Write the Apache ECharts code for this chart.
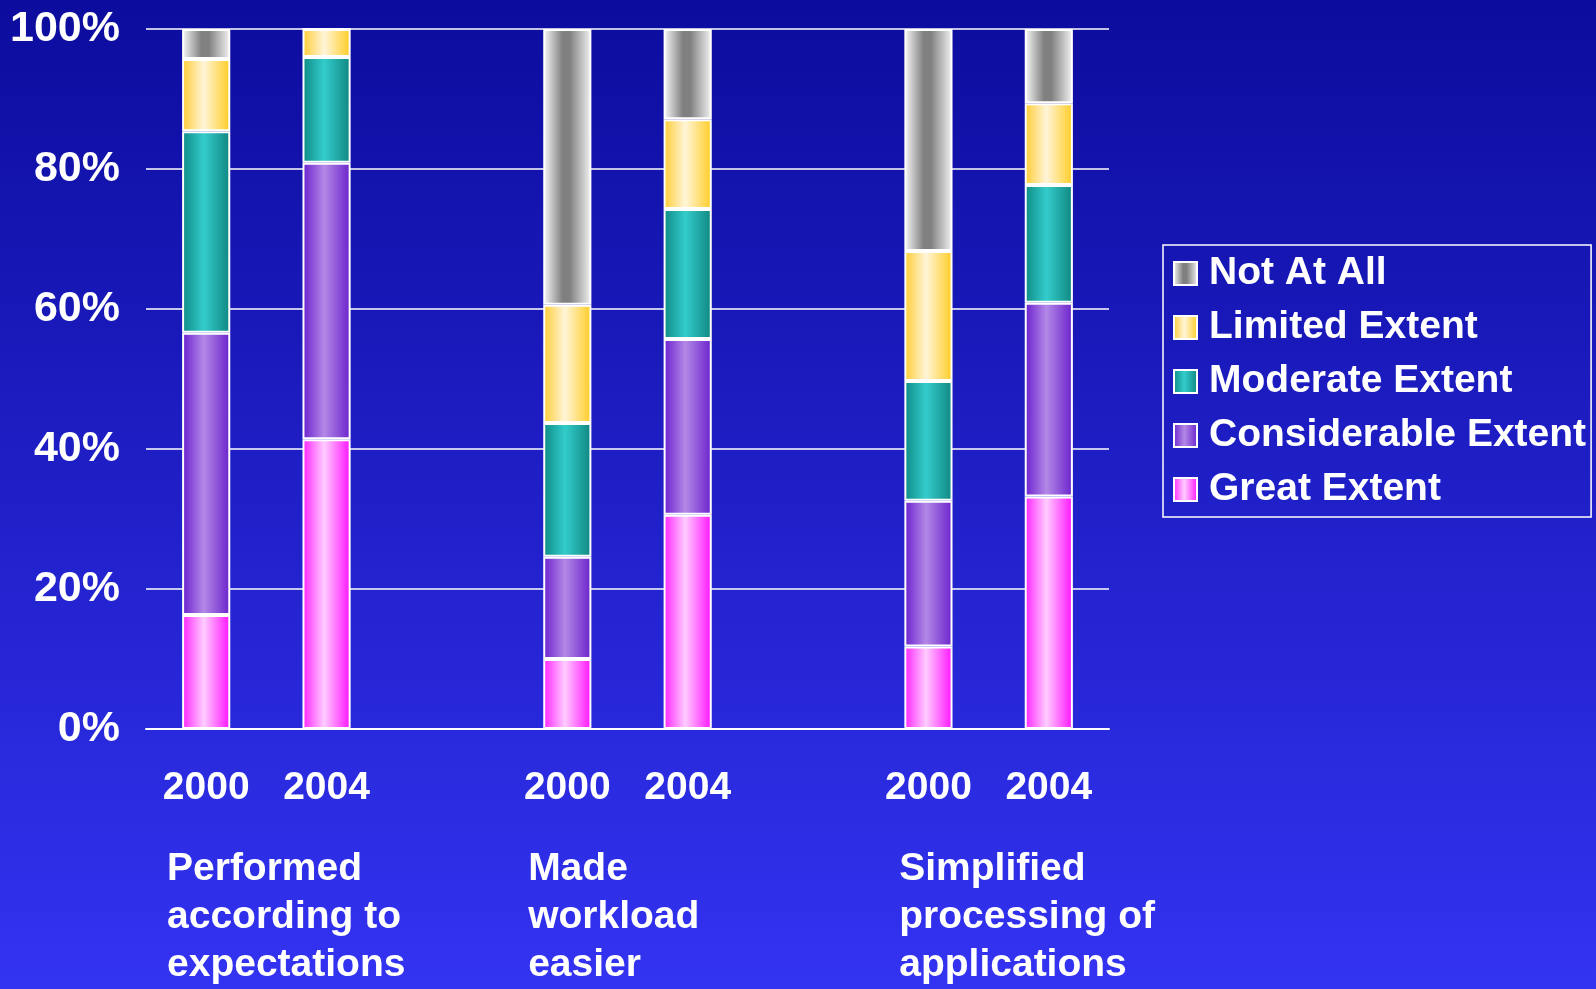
<!DOCTYPE html>
<html>

<head>
    <meta charset="utf-8" />
    <title>ECharts</title>
    <script src="https://cdn.jsdelivr.net/npm/echarts@6/dist/echarts.js"></script>
</head>

<body style="margin:0;">
    <div id="main" style="width: 1596px;height:989px;"></div>

    <script type="text/javascript">
        var myChart = echarts.init(document.getElementById('main'));

        // 8 slots: two years per group, empty slot between groups
        var slots = ['2000', '2004', '', '2000', '2004', '', '2000', '2004'];
        var groupLabels = [
            'Performed\naccording to\nexpectations',
            'Made\nworkload\neasier',
            'Simplified\nprocessing of\napplications'
        ];

        // percentages (bottom to top)
        var greatExtent = [16.3, 41.4, '-', 10.0, 30.6, '-', 11.8, 33.2];
        var considerableExtent = [40.3, 39.5, '-', 14.6, 25.1, '-', 20.8, 27.7];
        var moderateExtent = [28.8, 15.1, '-', 19.1, 18.6, '-', 17.1, 16.8];
        var limitedExtent = [10.3, 4.0, '-', 16.9, 12.8, '-', 18.6, 11.7];
        var notAtAll = [4.3, 0, '-', 39.4, 12.9, '-', 31.7, 10.6];

        var font = '"Liberation Sans", Arial, sans-serif';

        function barGradient(edgeL, mid, edgeR) {
            return new echarts.graphic.LinearGradient(0, 0, 1, 0, [
                { offset: 0, color: edgeL },
                { offset: 0.45, color: mid },
                { offset: 1, color: edgeR }
            ]);
        }

        var seriesDefs = [
            { name: 'Great Extent', data: greatExtent, color: barGradient('#ff22ff', '#ffccff', '#ff11ff') },
            { name: 'Considerable Extent', data: considerableExtent, color: barGradient('#6a1fcf', '#b388e6', '#6a22cc') },
            { name: 'Moderate Extent', data: moderateExtent, color: barGradient('#0e8a84', '#33cccc', '#108680') },
            { name: 'Limited Extent', data: limitedExtent, color: barGradient('#ffcc33', '#fff5d8', '#ffcc22') },
            { name: 'Not At All', data: notAtAll, color: new echarts.graphic.LinearGradient(0, 0, 1, 0, [
                { offset: 0, color: '#fafafa' },
                { offset: 0.4, color: '#808080' },
                { offset: 0.55, color: '#808080' },
                { offset: 1, color: '#f5f5f5' }
            ]) }
        ];

        var series = seriesDefs.map(function (s) {
            return {
                name: s.name,
                type: 'bar',
                stack: 'total',
                barWidth: '40%',
                data: s.data,
                itemStyle: {
                    color: s.color,
                    borderColor: '#ffffff',
                    borderWidth: 2
                }
            };
        });

        // left offsets of the group captions from their group start
        var groupPad = [21, 21, 31];
        var groupRich = {};
        groupPad.forEach(function (p, i) {
            groupRich['g' + i] = {
                color: '#ffffff',
                fontFamily: font,
                fontWeight: 'bold',
                fontSize: 39,
                lineHeight: 48,
                padding: [0, 0, 0, p]
            };
        });

        var option = {
            backgroundColor: new echarts.graphic.LinearGradient(0, 0, 0, 1, [
                { offset: 0, color: '#0c0c9e' },
                { offset: 1, color: '#3333f2' }
            ]),
            animation: false,
            textStyle: { fontFamily: font },
            grid: {
                left: 146,
                right: 487,
                top: 29,
                bottom: 260
            },
            legend: {
                orient: 'vertical',
                left: 1163,
                top: 245,
                data: ['Not At All', 'Limited Extent', 'Moderate Extent', 'Considerable Extent', 'Great Extent'],
                icon: 'rect',
                itemWidth: 23,
                itemHeight: 23,
                itemGap: 15,
                padding: [9, 5, 8, 10],
                borderColor: '#ffffff',
                borderWidth: 1.5,
                textStyle: {
                    color: '#ffffff',
                    fontFamily: font,
                    fontWeight: 'bold',
                    fontSize: 39,
                    padding: [0, 0, 0, 7]
                }
            },
            xAxis: [
                {
                    type: 'category',
                    data: slots,
                    axisLine: { lineStyle: { color: '#ffffff', width: 2 } },
                    axisTick: { length: 12, lineStyle: { color: '#ffffff', width: 2 } },
                    axisLabel: {
                        interval: 0,
                        margin: 39,
                        color: '#ffffff',
                        fontFamily: font,
                        fontWeight: 'bold',
                        fontSize: 39,
                        lineHeight: 40
                    }
                },
                {
                    type: 'value',
                    position: 'bottom',
                    min: 0,
                    max: 8,
                    interval: 3,
                    axisLine: { show: false },
                    axisTick: { show: false },
                    splitLine: { show: false },
                    axisLabel: {
                        margin: 116,
                        align: 'left',
                        rich: groupRich,
                        formatter: function (val) {
                            var i = val / 3;
                            if (val % 3 !== 0 || !groupLabels[i]) {
                                return '';
                            }
                            return groupLabels[i].split('\n').map(function (line) {
                                return '{g' + i + '|' + line + '}';
                            }).join('\n');
                        }
                    }
                }
            ],
            yAxis: {
                type: 'value',
                min: 0,
                max: 100,
                interval: 20,
                axisLine: { show: false },
                axisTick: { show: false },
                splitLine: { lineStyle: { color: '#ffffff', width: 1.5 } },
                axisLabel: {
                    margin: 26,
                    color: '#ffffff',
                    fontFamily: font,
                    fontWeight: 'bold',
                    fontSize: 43,
                    formatter: '{value}%'
                }
            },
            series: series
        };

        myChart.setOption(option);
    </script>
</body>

</html>
